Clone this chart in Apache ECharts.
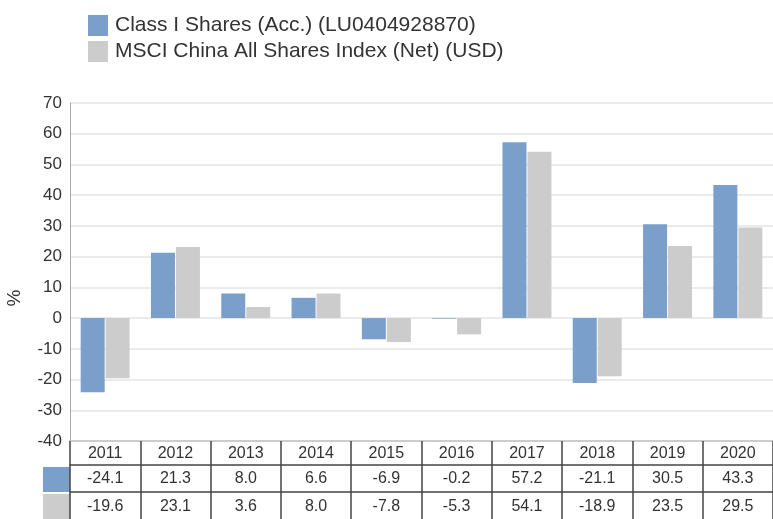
<!DOCTYPE html>
<html>
<head>
<meta charset="utf-8">
<script src="https://cdn.jsdelivr.net/npm/echarts@6/dist/echarts.min.js"></script>
<style>
  html, body { margin: 0; padding: 0; background: #fff; }
  #chart { width: 773px; height: 519px; }
</style>
</head>
<body>
<div id="chart"></div>
<script>
// Calendar year performance
let years = ['2011', '2012', '2013', '2014', '2015', '2016', '2017', '2018', '2019', '2020'];
let classShares = [-24.1, 21.3, 8.0, 6.6, -6.9, -0.2, 57.2, -21.1, 30.5, 43.3];
let msciIndex = [-19.6, 23.1, 3.6, 8.0, -7.8, -5.3, 54.1, -18.9, 23.5, 29.5];
let seriesNames = ['Class I Shares (Acc.) (LU0404928870)', 'MSCI China All Shares Index (Net) (USD)'];

let blue = '#7b9fcb';
let grey = '#cccccc';
let font = '"Liberation Sans", Arial, sans-serif';

let chart = echarts.init(document.getElementById('chart'));

function fmt(list) {
    return list.map(function (v) { return v.toFixed(1); });
}

// table rows under the plot are extra category axes
function rowAxis(data, offset, margin) {
    return {
        type: 'category',
        data: data,
        position: 'bottom',
        offset: offset,
        axisLine: { show: true, onZero: false, lineStyle: { color: '#444', width: 1.5 } },
        axisTick: { show: false },
        axisLabel: { margin: margin, fontSize: 16, color: '#333', fontFamily: font, interval: 0 },
        splitLine: { show: false }
    };
}

let option = {
    animation: false,
    textStyle: { fontFamily: font },
    color: [blue, grey],

    legend: {
        orient: 'vertical',
        left: 88,
        top: 15,
        padding: 0,
        itemWidth: 20,
        itemHeight: 21,
        itemGap: 5,
        icon: 'rect',
        data: seriesNames,
        textStyle: { fontSize: 21, color: '#333', fontFamily: font, padding: [0, 0, 0, 2] }
    },

    grid: { left: 70, right: 0, top: 103, bottom: 78, containLabel: false, outerBoundsMode: 'none' },

    xAxis: [
        {
            type: 'category',
            data: years,
            position: 'bottom',
            axisLine: { show: true, onZero: false, lineStyle: { color: '#ccc', width: 2 } },
            axisTick: { show: true, length: 78, lineStyle: { color: '#444', width: 1.5 } },
            axisLabel: { margin: 5, fontSize: 16, color: '#333', fontFamily: font, interval: 0 },
            splitLine: { show: false }
        },
        rowAxis(fmt(classShares), 24, 6),
        rowAxis(fmt(msciIndex), 51, 7)
    ],

    yAxis: {
        type: 'value',
        min: -40,
        max: 70,
        interval: 10,
        name: '%',
        nameLocation: 'middle',
        nameRotate: 90,
        nameGap: 46,
        nameTextStyle: { fontSize: 19, color: '#333', fontFamily: font, padding: [0, 52, 0, 0] },
        axisLine: { show: true, lineStyle: { color: '#aaa', width: 1 } },
        axisTick: { show: false },
        axisLabel: { fontSize: 17, color: '#333', margin: 8, fontFamily: font },
        splitLine: { lineStyle: { color: '#ebebeb', width: 2 } }
    },

    graphic: [
        { type: 'rect', shape: { x: 43, y: 467, width: 27, height: 25 }, style: { fill: blue } },
        { type: 'rect', shape: { x: 43, y: 494, width: 27, height: 25 }, style: { fill: grey } }
    ],

    series: [
        {
            name: seriesNames[0],
            type: 'bar',
            data: classShares,
            barWidth: 24,
            barGap: '4%',
            itemStyle: { color: blue }
        },
        {
            name: seriesNames[1],
            type: 'bar',
            data: msciIndex,
            barWidth: 24,
            itemStyle: { color: grey }
        }
    ]
};

chart.setOption(option);
</script>
</body>
</html>
